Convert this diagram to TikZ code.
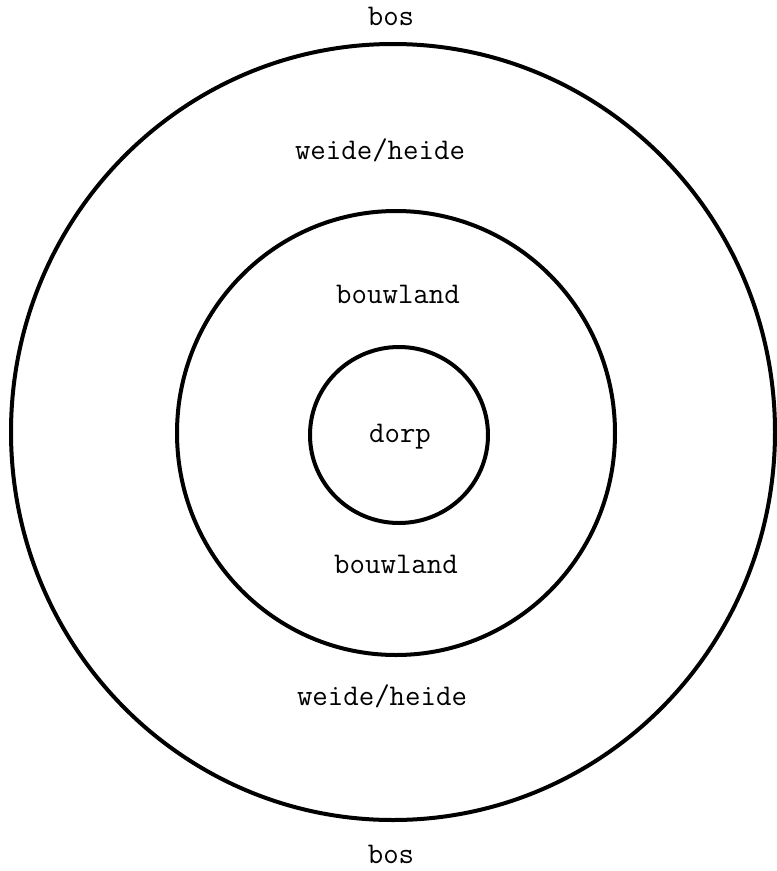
\documentclass[tikz,border=0pt]{standalone}
\begin{document}
\begin{tikzpicture}[x=1pt,y=-1pt,
  ring/.style={draw=black,line width=4pt},
  lbl/.style={font=\ttfamily\fontsize{30}{34}\selectfont,text=black,inner sep=0pt}]
\useasboundingbox (0,0) rectangle (777,871);
\fill[white] (0,0) rectangle (777,871);
\draw[ring] (393,432) ellipse [x radius=382, y radius=388];
\draw[ring] (396,433) ellipse [x radius=219, y radius=222];
\draw[ring] (399,435) ellipse [x radius=89, y radius=88];
\node[lbl] (bos1) at (391,16) {bos};
\node[lbl] (wh1) at (380,150) {weide/heide};
\node[lbl] (bw1) at (398,294) {bouwland};
\node[lbl] (dorp) at (400,437) {dorp};
\node[lbl] (bw2) at (396,564) {bouwland};
\node[lbl] (wh2) at (382,696) {weide/heide};
\node[lbl] (bos2) at (391,854) {bos};
\end{tikzpicture}
\end{document}
